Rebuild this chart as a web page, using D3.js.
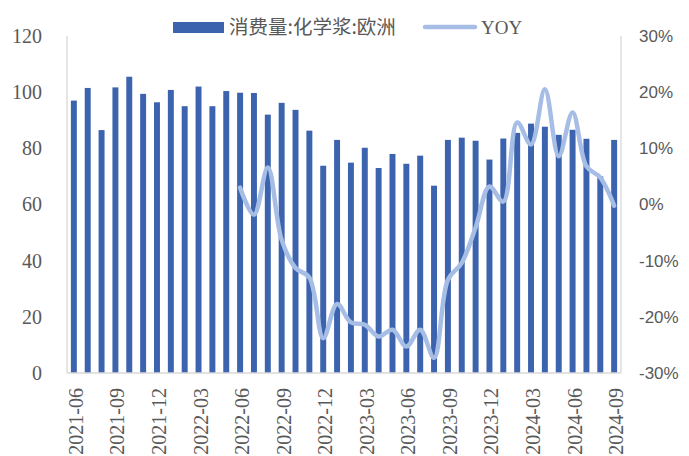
<!DOCTYPE html>
<html>
<head>
<meta charset="utf-8">
<script src="https://cdn.jsdelivr.net/npm/d3@7"></script>
<style>
  body { margin: 0; background: #fff; }
  text { fill: #595959; }
</style>
</head>
<body>
<svg width="689" height="456"></svg>
<script>
// months 2021-06 .. 2024-09
const months = [
  "2021-06","2021-07","2021-08","2021-09","2021-10","2021-11","2021-12",
  "2022-01","2022-02","2022-03","2022-04","2022-05","2022-06","2022-07","2022-08","2022-09","2022-10","2022-11","2022-12",
  "2023-01","2023-02","2023-03","2023-04","2023-05","2023-06","2023-07","2023-08","2023-09","2023-10","2023-11","2023-12",
  "2024-01","2024-02","2024-03","2024-04","2024-05","2024-06","2024-07","2024-08","2024-09"
];
const consumption = [
  97, 101.5, 86.5, 101.7, 105.5, 99.4, 96.4,
  100.8, 95, 102, 95, 100.4, 99.8, 99.7, 92, 96.2, 93.7, 86.3, 73.8,
  83, 74.9, 80.2, 73, 78, 74.5, 77.4, 66.7, 83, 83.8, 82.7, 76,
  83.5, 85.5, 88.8, 87.7, 84.8, 86.6, 83.4, 70, 83
];
// YOY (%) starts at 2022-06
const yoyMonths = months.slice(12);
const yoy = [
  3.0, -1.8, 6.6, -6.3, -11.3, -13, -23.8,
  -17.7, -21, -21.4, -23.5, -22.3, -25.3, -22.3, -27.3, -13.4, -10.4, -4.1, 3.2,
  0.5, 14.6, 10.7, 20.5, 8.6, 16.4, 6.8, 4.8, -0.2
];
const leftTicks = [0, 20, 40, 60, 80, 100, 120];
const rightTicks = [-30, -20, -10, 0, 10, 20, 30];
const xTicks = months.filter((d, i) => i % 3 === 0);

var svg = d3.select("svg"),
  plotLeft = 67, plotRight = 621, plotTop = 36, plotBottom = 373;

var x = d3.scaleBand().domain(months).range([plotLeft, plotRight]).paddingInner(0.57).paddingOuter(0.28);
var yL = d3.scaleLinear().domain([0, 120]).range([plotBottom, plotTop]);
var yR = d3.scaleLinear().domain([-30, 30]).range([plotBottom, plotTop]);

// axis lines
svg.append("line").attr("x1", plotLeft).attr("x2", plotLeft).attr("y1", plotTop).attr("y2", plotBottom)
  .attr("stroke", "#d9d9d9").attr("stroke-width", 1.3);
svg.append("line").attr("x1", plotRight).attr("x2", plotRight).attr("y1", plotTop).attr("y2", plotBottom)
  .attr("stroke", "#d9d9d9").attr("stroke-width", 1.3);

// bars
svg.selectAll(".bar")
  .data(consumption)
  .enter()
  .append("rect")
  .attr("class", "bar")
  .attr("x", (d, i) => x(months[i]))
  .attr("y", (d) => yL(d))
  .attr("width", x.bandwidth())
  .attr("height", (d) => yL(0) - yL(d))
  .attr("fill", "#3c63ad");

svg.append("line").attr("x1", plotLeft).attr("x2", plotRight).attr("y1", plotBottom).attr("y2", plotBottom)
  .attr("stroke", "#d9d9d9").attr("stroke-width", 1.3);

// yoy line
var line = d3.line()
  .x((d, i) => x(yoyMonths[i]) + x.bandwidth() / 2)
  .y((d) => yR(d))
  .curve(d3.curveCatmullRom.alpha(0.5));

svg.append("path")
  .datum(yoy)
  .attr("d", line)
  .attr("fill", "none")
  .attr("stroke", "#a6bde6")
  .attr("stroke-width", 4.5)
  .attr("stroke-linecap", "round")
  .attr("stroke-linejoin", "round");

// left axis
var gl = svg.append("g").attr("transform", "translate(" + plotLeft + ",0)")
  .call(d3.axisLeft(yL).tickValues(leftTicks).tickSize(0).tickPadding(25));
gl.select(".domain").remove();
gl.selectAll("text").style("font-family", "'Liberation Serif', serif").style("font-size", "20px").attr("fill", "#595959");

// right axis
var gr = svg.append("g").attr("transform", "translate(" + plotRight + ",0)")
  .call(d3.axisRight(yR).tickValues(rightTicks).tickSize(0).tickPadding(18).tickFormat((d) => d + "%"));
gr.select(".domain").remove();
gr.selectAll("text").style("font-family", "'Liberation Sans', sans-serif").style("font-size", "17px").attr("fill", "#595959");

// x axis
var gx = svg.append("g").attr("transform", "translate(0," + plotBottom + ")")
  .call(d3.axisBottom(x).tickValues(xTicks).tickSize(0).tickPadding(0));
gx.select(".domain").remove();
gx.selectAll("text")
  .attr("transform", "rotate(-90)")
  .attr("text-anchor", "end")
  .attr("x", -15)
  .attr("y", 0)
  .attr("dy", "0.45em")
  .style("font-family", "'Liberation Serif', serif")
  .style("font-size", "20px")
  .attr("fill", "#595959");

// legend
var lg = svg.append("g");
lg.append("rect").attr("x", 173).attr("y", 22).attr("width", 51).attr("height", 11).attr("fill", "#3c63ad");
lg.append("text").attr("x", 229).attr("y", 34)
  .style("font-family", "'Noto Sans CJK SC', serif").style("font-size", "19.5px")
  .text("消费量:化学浆:欧洲");
lg.append("line").attr("x1", 425).attr("x2", 475).attr("y1", 27).attr("y2", 27)
  .attr("stroke", "#a6bde6").attr("stroke-width", 4.5).attr("stroke-linecap", "round");
lg.append("text").attr("x", 481).attr("y", 34)
  .style("font-family", "'Liberation Serif', serif").style("font-size", "19px")
  .text("YOY");
</script>
</body>
</html>
